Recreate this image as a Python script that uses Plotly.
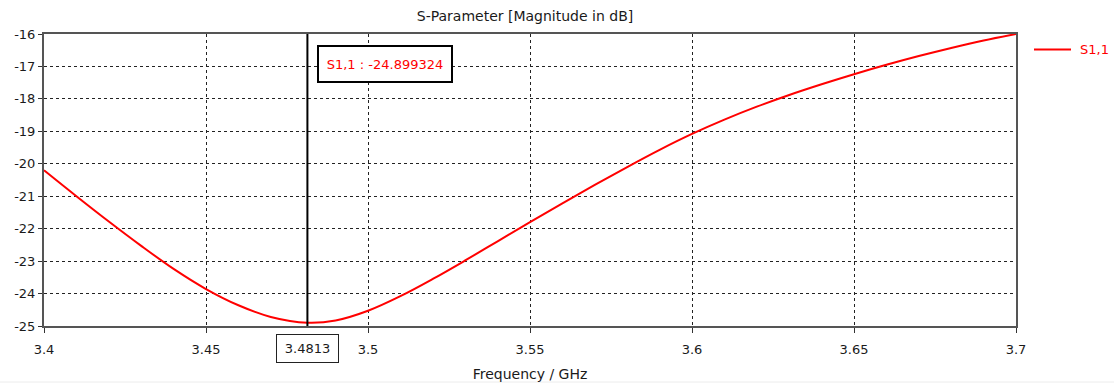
import plotly.graph_objects as go

# Data (S1,1 magnitude in dB vs frequency in GHz)
freq_ghz = [3.40, 3.41, 3.42, 3.43, 3.44, 3.45, 3.46, 3.47, 3.4813, 3.49,
            3.50, 3.51, 3.52, 3.53, 3.54, 3.55, 3.56, 3.57, 3.58, 3.59, 3.60,
            3.61, 3.62, 3.63, 3.64, 3.65, 3.66, 3.67, 3.68, 3.69, 3.70]
s11_db = [-20.20, -21.00, -21.78, -22.53, -23.24, -23.86, -24.36, -24.72, -24.899, -24.83,
          -24.53, -24.08, -23.55, -22.98, -22.39, -21.80, -21.22, -20.65, -20.10, -19.57, -19.08,
          -18.64, -18.24, -17.88, -17.55, -17.24, -16.95, -16.68, -16.43, -16.20, -16.00]
x_ticks = [3.4, 3.45, 3.5, 3.55, 3.6, 3.65, 3.7]
y_ticks = [-16, -17, -18, -19, -20, -21, -22, -23, -24, -25]
marker_freq = 3.4813
marker_value = -24.899324
series_name = "S1,1"

FONT = "DejaVu Sans"
TXT = "#1a1a1a"
RED = "#ff0000"

fig = go.Figure()
fig.add_trace(go.Scatter(
    x=freq_ghz, y=s11_db, mode="lines", name=series_name, showlegend=False,
    line=dict(color=RED, width=2, shape="spline", smoothing=1.0),
))

# marker line
fig.add_shape(type="line", xref="x", yref="paper", x0=marker_freq, x1=marker_freq,
              y0=0, y1=1, line=dict(color="black", width=2))

# marker value on x axis
fig.add_annotation(x=marker_freq, xref="x", y=-0.028, yref="paper", yanchor="top",
                   text=f"{marker_freq:g}", showarrow=False, bordercolor="#222", borderwidth=1,
                   width=59, height=25, borderpad=1,
                   font=dict(family=FONT, size=13, color=TXT))

# marker readout box
fig.add_annotation(x=3.4843, xref="x", y=0.961, yref="paper", xanchor="left", yanchor="top",
                   text=f"{series_name} : {marker_value:.6f}", showarrow=False,
                   bordercolor="black", borderwidth=2, width=128, height=30, borderpad=2,
                   bgcolor="white", font=dict(family=FONT, size=13, color=RED))

# legend (drawn to match the reference position)
fig.add_shape(type="line", xref="paper", yref="paper",
              x0=(1034 - 44) / 972, x1=(1071 - 44) / 972, y0=0.947, y1=0.947,
              line=dict(color=RED, width=2))
fig.add_annotation(x=(1078 - 44) / 972, xref="paper", y=0.947, yref="paper",
                   xanchor="left", yanchor="middle", text=series_name, showarrow=False,
                   font=dict(family=FONT, size=13, color=RED))

# faint bottom separator
fig.add_shape(type="line", xref="paper", yref="paper", x0=-44 / 972, x1=1070 / 972,
              y0=(326 - 382) / 292, y1=(326 - 382) / 292,
              line=dict(color="#ececec", width=1))

fig.update_layout(
    width=1114, height=385,
    margin=dict(l=44, r=98, t=34, b=59),
    paper_bgcolor="white", plot_bgcolor="white",
    title=dict(text="S-Parameter [Magnitude in dB]", x=525 / 1114, xanchor="center",
               y=1 - 16 / 385, yanchor="middle",
               font=dict(family=FONT, size=14, color=TXT)),
    font=dict(family=FONT, size=13, color=TXT),
    showlegend=False,
    xaxis=dict(range=[3.4, 3.7], tickvals=x_ticks,
               ticktext=[f"{v:g}" for v in x_ticks],
               showgrid=True, gridcolor="#222", griddash="3px,3px", gridwidth=1,
               showline=True, linecolor="#555", linewidth=2, mirror=True,
               ticks="outside", ticklen=5, tickcolor="#333", ticklabelstandoff=5,
               tickfont=dict(family=FONT, size=13, color=TXT),
               automargin=False,
               title=dict(text="Frequency / GHz", standoff=14,
                          font=dict(family=FONT, size=14, color=TXT)),
               zeroline=False),
    yaxis=dict(range=[-25, -16], tickvals=y_ticks,
               ticktext=[f"{v:d}" for v in y_ticks],
               showgrid=True, gridcolor="#222", griddash="3px,3px", gridwidth=1,
               showline=True, linecolor="#555", linewidth=2, mirror=True,
               ticks="outside", ticklen=4, tickcolor="#333",
               tickfont=dict(family=FONT, size=13, color=TXT),
               automargin=False,
               zeroline=False),
)

fig.write_html("out.html")
